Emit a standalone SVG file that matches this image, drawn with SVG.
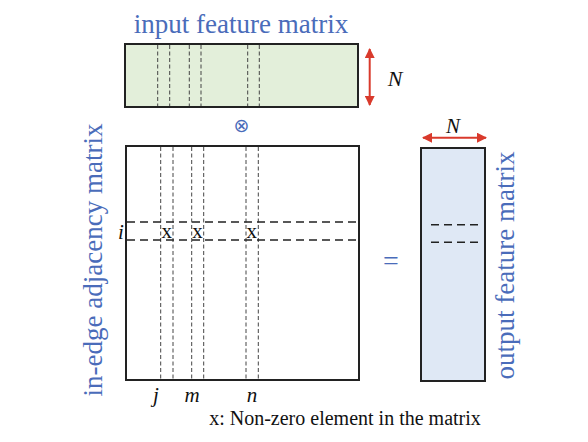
<svg xmlns="http://www.w3.org/2000/svg" width="588" height="442" viewBox="0 0 588 442">
<style>
.lbl{font-family:"Liberation Serif","Times New Roman",serif;font-size:27px;fill:#4a6cba}
.it{font-family:"Liberation Serif","Times New Roman",serif;font-style:italic;fill:#111}
.rm{font-family:"Liberation Serif","Times New Roman",serif;fill:#111}
.box{stroke:#222;stroke-width:2}
.vd{stroke:#444;stroke-width:1;stroke-dasharray:4 2.5;fill:none}
.hd{stroke:#222;stroke-width:1.5;stroke-dasharray:8 5;fill:none}
.red{stroke:#d93a2c;stroke-width:2;fill:none}
</style>
<defs>
<marker id="ah" viewBox="0 0 10 10" refX="9" refY="5" markerWidth="5" markerHeight="5" orient="auto-start-reverse">
<path d="M0,0 L10,5 L0,10 z" fill="#d93a2c"/>
</marker>
</defs>
<rect width="588" height="442" fill="#fff"/>

<g id="input-matrix">
<text class="lbl" x="241" y="33" text-anchor="middle">input feature matrix</text>
<rect class="box" x="125" y="44" width="233" height="63" fill="#e3efda"/>
<path class="vd" d="M157.7,45V106M169.7,45V106M189.3,45V106M201,45V106M247.7,45V106M259.3,45V106"/>
<text class="it" x="395" y="86" font-size="22" text-anchor="middle">N</text>
</g>

<g id="otimes">
<text x="241.5" y="132" font-family="DejaVu Sans,sans-serif" font-size="19" fill="#4a6cba" text-anchor="middle">⊗</text>
</g>

<g id="adjacency-matrix">
<text class="lbl" transform="translate(102,260) rotate(-90)" text-anchor="middle">in-edge adjacency matrix</text>
<rect class="box" x="126" y="146" width="233" height="234" fill="#fff"/>
<path class="vd" d="M160.7,147V379M173,147V379M191.7,147V379M203.7,147V379M246,147V379M258.3,147V379"/>
<path class="hd" d="M127,222H359M127,240H359"/>
<text class="it" x="121" y="239" font-size="21" text-anchor="middle">i</text>
<text class="rm" x="166.7" y="238" font-size="21" text-anchor="middle">x</text>
<text class="rm" x="197.5" y="238" font-size="21" text-anchor="middle">x</text>
<text class="rm" x="251.7" y="238" font-size="21" text-anchor="middle">x</text>
<text class="it" x="156" y="402" font-size="21" text-anchor="middle">j</text>
<text class="it" x="192" y="402" font-size="21" text-anchor="middle">m</text>
<text class="it" x="252" y="402" font-size="21" text-anchor="middle">n</text>
</g>

<g id="equals">
<text x="391" y="270" font-family="Liberation Serif,serif" font-size="28" fill="#4a6cba" text-anchor="middle">=</text>
</g>

<g id="output-matrix">
<rect class="box" x="421" y="148" width="64" height="233" fill="#dfe8f5"/>
<path class="hd" d="M431,224.7H482M431,242.3H482"/>
<text class="it" x="453" y="133" font-size="21" text-anchor="middle">N</text>
<text class="lbl" transform="translate(514,265.5) rotate(-90)" text-anchor="middle">output feature matrix</text>
</g>

<g id="connectors">
<line class="red" x1="369.7" y1="49" x2="369.7" y2="105" marker-start="url(#ah)" marker-end="url(#ah)"/>
<line class="red" x1="423" y1="137.7" x2="486" y2="137.7" marker-start="url(#ah)" marker-end="url(#ah)"/>
</g>

<g id="legend">
<text class="rm" x="345" y="425" font-size="20" text-anchor="middle">x: Non-zero element in the matrix</text>
</g>
</svg>
